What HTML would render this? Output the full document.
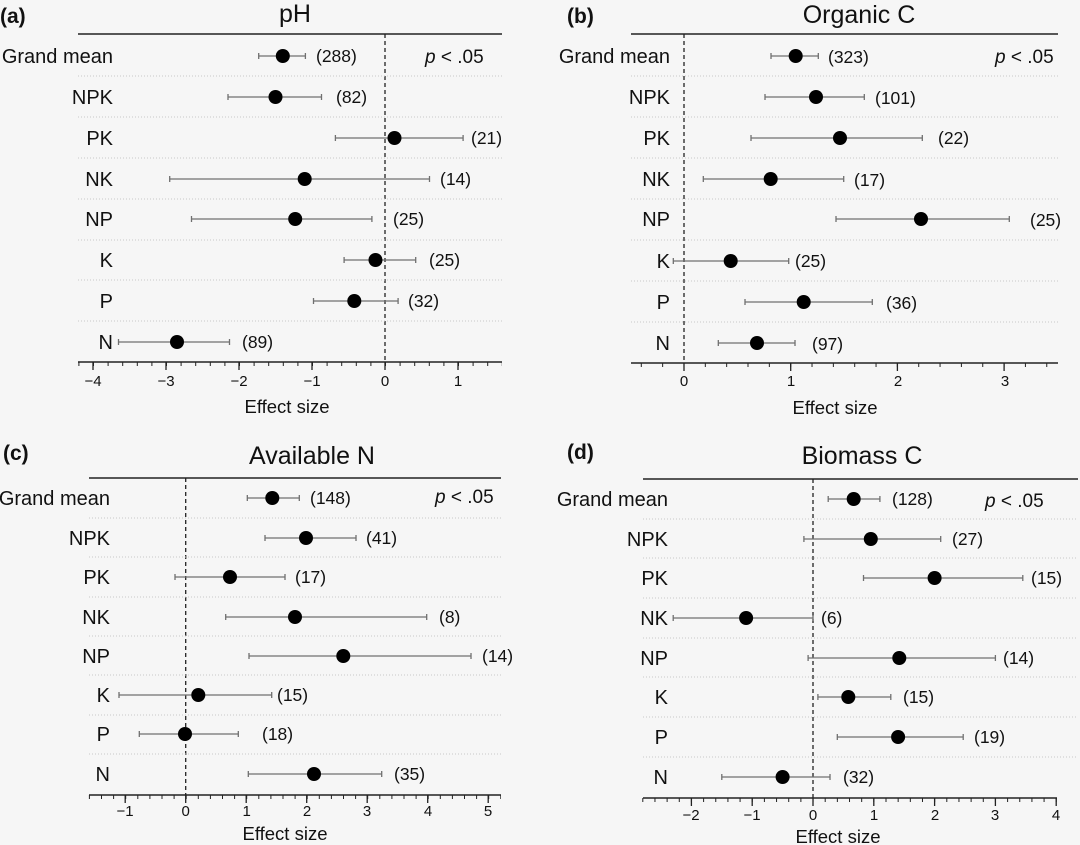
<!DOCTYPE html>
<html><head><meta charset="utf-8"><style>
html,body{margin:0;padding:0;background:#f6f6f6;}
svg{display:block;font-family:"Liberation Sans",Arial,sans-serif;}
.lab{font-size:20px;text-anchor:end;fill:#111}
.cnt{font-size:17.5px;fill:#111}
.tk{font-size:15px;text-anchor:middle;fill:#111}
.ttl{font-size:25px;text-anchor:middle;fill:#111}
.pl{font-size:21px;font-weight:bold;fill:#111}
.es{font-size:18.5px;text-anchor:middle;fill:#111}
.pv{font-size:19px;fill:#111}
.sep{stroke:#c8c8c8;stroke-width:1;stroke-dasharray:1 2}
.eb{stroke:#707070;stroke-width:1.3;fill:none}
.zero{stroke:#222;stroke-width:1.3;stroke-dasharray:4 3}
.ax{stroke:#222;stroke-width:1.5}
</style></head><body>
<svg width="1080" height="845" viewBox="0 0 1080 845" xmlns="http://www.w3.org/2000/svg">
<rect width="1080" height="845" fill="#f6f6f6"/>

<!-- Panel a -->
<g>
<text class="pl" x="0" y="23">(a)</text>
<text class="ttl" x="295" y="22">pH</text>
<line class="ax" x1="78" y1="34" x2="502" y2="34"/>
<line class="zero" x1="385" y1="34" x2="385" y2="362"/>
<g class="sep"><line x1="78" y1="76" x2="502" y2="76"/><line x1="78" y1="117" x2="502" y2="117"/><line x1="78" y1="158" x2="502" y2="158"/><line x1="78" y1="199" x2="502" y2="199"/><line x1="78" y1="240" x2="502" y2="240"/><line x1="78" y1="280" x2="502" y2="280"/><line x1="78" y1="321" x2="502" y2="321"/></g>
<text class="lab" x="113" y="63">Grand mean</text><text class="lab" x="113" y="104">NPK</text><text class="lab" x="113" y="145">PK</text><text class="lab" x="113" y="186">NK</text><text class="lab" x="113" y="226">NP</text><text class="lab" x="113" y="267">K</text><text class="lab" x="113" y="308">P</text><text class="lab" x="113" y="349">N</text>
<g class="eb">
<path d="M258.7 56H305.4M258.7 53v6M305.4 53v6"/>
<path d="M228 97H321.5M228 94v6M321.5 94v6"/>
<path d="M335.4 138H463.1M335.4 135v6M463.1 135v6"/>
<path d="M169.7 179H429.5M169.7 176v6M429.5 176v6"/>
<path d="M191.5 219H371.9M191.5 216v6M371.9 216v6"/>
<path d="M344.1 260H415.7M344.1 257v6M415.7 257v6"/>
<path d="M313.5 301H398.1M313.5 298v6M398.1 298v6"/>
<path d="M118.5 342H229.5M118.5 339v6M229.5 339v6"/>
</g>
<g fill="#000"><circle cx="282.8" cy="56" r="7"/><circle cx="275.5" cy="97" r="7"/><circle cx="394.5" cy="138" r="7"/><circle cx="304.7" cy="179" r="7"/><circle cx="295.2" cy="219" r="7"/><circle cx="375.5" cy="260" r="7"/><circle cx="354.3" cy="301" r="7"/><circle cx="177" cy="342" r="7"/></g>
<text class="cnt" x="316" y="62">(288)</text><text class="cnt" x="336" y="103">(82)</text><text class="cnt" x="471" y="144">(21)</text><text class="cnt" x="440" y="185">(14)</text><text class="cnt" x="393" y="225">(25)</text><text class="cnt" x="429" y="266">(25)</text><text class="cnt" x="408" y="307">(32)</text><text class="cnt" x="242" y="348">(89)</text>
<text class="pv" x="425" y="63"><tspan font-style="italic">p</tspan> &lt; .05</text>
<line class="ax" x1="78" y1="362" x2="502" y2="362"/>
<line x1="78.4" y1="364" x2="502" y2="364" stroke="#222" stroke-width="4" stroke-dasharray="1 13.6"/>
<line x1="92.35" y1="366" x2="502" y2="366" stroke="#222" stroke-width="8" stroke-dasharray="1.3 71.7"/>
<text class="tk" x="93" y="386">−4</text><text class="tk" x="166" y="386">−3</text><text class="tk" x="239" y="386">−2</text><text class="tk" x="312" y="386">−1</text><text class="tk" x="385" y="386">0</text><text class="tk" x="458" y="386">1</text>
<text class="es" x="287" y="413">Effect size</text>
</g>

<!-- Panel b -->
<g>
<text class="pl" x="567" y="23">(b)</text>
<text class="ttl" x="859" y="23">Organic C</text>
<line class="ax" x1="631" y1="34" x2="1058" y2="34"/>
<line class="zero" x1="684" y1="34" x2="684" y2="363"/>
<g class="sep"><line x1="631" y1="76" x2="1058" y2="76"/><line x1="631" y1="117" x2="1058" y2="117"/><line x1="631" y1="158" x2="1058" y2="158"/><line x1="631" y1="199" x2="1058" y2="199"/><line x1="631" y1="240" x2="1058" y2="240"/><line x1="631" y1="281" x2="1058" y2="281"/><line x1="631" y1="322" x2="1058" y2="322"/></g>
<text class="lab" x="670" y="63">Grand mean</text><text class="lab" x="670" y="104">NPK</text><text class="lab" x="670" y="145">PK</text><text class="lab" x="670" y="186">NK</text><text class="lab" x="670" y="226">NP</text><text class="lab" x="670" y="268">K</text><text class="lab" x="670" y="309">P</text><text class="lab" x="670" y="350">N</text>
<g class="eb">
<path d="M771 56H818.3M771 53v6M818.3 53v6"/>
<path d="M765 97H864.3M765 94v6M864.3 94v6"/>
<path d="M751 138H922.3M751 135v6M922.3 135v6"/>
<path d="M703.3 179H843.7M703.3 176v6M843.7 176v6"/>
<path d="M836 219H1009.3M836 216v6M1009.3 216v6"/>
<path d="M673.3 261H788.7M673.3 258v6M788.7 258v6"/>
<path d="M745 302H872.3M745 299v6M872.3 299v6"/>
<path d="M718.3 343H795M718.3 340v6M795 340v6"/>
</g>
<g fill="#000"><circle cx="795.7" cy="56" r="7"/><circle cx="816" cy="97" r="7"/><circle cx="840" cy="138" r="7"/><circle cx="770.7" cy="179" r="7"/><circle cx="921" cy="219" r="7"/><circle cx="730.7" cy="261" r="7"/><circle cx="803.7" cy="302" r="7"/><circle cx="757" cy="343" r="7"/></g>
<text class="cnt" x="828" y="63">(323)</text><text class="cnt" x="875" y="104">(101)</text><text class="cnt" x="938" y="144">(22)</text><text class="cnt" x="854" y="186">(17)</text><text class="cnt" x="1030" y="226">(25)</text><text class="cnt" x="795" y="267">(25)</text><text class="cnt" x="886" y="309">(36)</text><text class="cnt" x="812" y="350">(97)</text>
<text class="pv" x="995" y="63"><tspan font-style="italic">p</tspan> &lt; .05</text>
<line class="ax" x1="631" y1="363" x2="1058" y2="363"/>
<line x1="640.8" y1="365" x2="1058" y2="365" stroke="#222" stroke-width="4" stroke-dasharray="1 20.34"/>
<line x1="683.35" y1="367" x2="1058" y2="367" stroke="#222" stroke-width="8" stroke-dasharray="1.3 105.4"/>
<text class="tk" x="684" y="386">0</text><text class="tk" x="791" y="386">1</text><text class="tk" x="898" y="386">2</text><text class="tk" x="1005" y="386">3</text>
<text class="es" x="835" y="414">Effect size</text>
</g>

<!-- Panel c -->
<g>
<text class="pl" x="3" y="460">(c)</text>
<text class="ttl" x="312" y="464">Available N</text>
<line class="ax" x1="89" y1="478" x2="501" y2="478"/>
<line class="zero" x1="185.7" y1="478" x2="185.7" y2="795"/>
<g class="sep"><line x1="89" y1="518" x2="501" y2="518"/><line x1="89" y1="557" x2="501" y2="557"/><line x1="89" y1="597" x2="501" y2="597"/><line x1="89" y1="636" x2="501" y2="636"/><line x1="89" y1="675" x2="501" y2="675"/><line x1="89" y1="715" x2="501" y2="715"/><line x1="89" y1="754" x2="501" y2="754"/></g>
<text class="lab" x="110" y="505">Grand mean</text><text class="lab" x="110" y="545">NPK</text><text class="lab" x="110" y="584">PK</text><text class="lab" x="110" y="624">NK</text><text class="lab" x="110" y="663">NP</text><text class="lab" x="110" y="702">K</text><text class="lab" x="110" y="741">P</text><text class="lab" x="110" y="781">N</text>
<g class="eb">
<path d="M247.3 498H299.3M247.3 495v6M299.3 495v6"/>
<path d="M265 538H356M265 535v6M356 535v6"/>
<path d="M175 577H285M175 574v6M285 574v6"/>
<path d="M225.7 617H426.7M225.7 614v6M426.7 614v6"/>
<path d="M249 656H471M249 653v6M471 653v6"/>
<path d="M119 695H271.7M119 692v6M271.7 692v6"/>
<path d="M139.3 734H238.3M139.3 731v6M238.3 731v6"/>
<path d="M248.3 774H381.7M248.3 771v6M381.7 771v6"/>
</g>
<g fill="#000"><circle cx="272.3" cy="498" r="7"/><circle cx="306" cy="538" r="7"/><circle cx="230" cy="577" r="7"/><circle cx="295" cy="617" r="7"/><circle cx="343.3" cy="656" r="7"/><circle cx="198.3" cy="695" r="7"/><circle cx="185" cy="734" r="7"/><circle cx="314" cy="774" r="7"/></g>
<text class="cnt" x="310" y="504">(148)</text><text class="cnt" x="366" y="544">(41)</text><text class="cnt" x="295" y="583">(17)</text><text class="cnt" x="439" y="623">(8)</text><text class="cnt" x="482" y="662">(14)</text><text class="cnt" x="277" y="701">(15)</text><text class="cnt" x="262" y="740">(18)</text><text class="cnt" x="394" y="780">(35)</text>
<text class="pv" x="435" y="503"><tspan font-style="italic">p</tspan> &lt; .05</text>
<line class="ax" x1="89" y1="795" x2="501" y2="795"/>
<line x1="88.9" y1="797" x2="501" y2="797" stroke="#222" stroke-width="4" stroke-dasharray="1 11.1"/>
<line x1="124.55" y1="799" x2="501" y2="799" stroke="#222" stroke-width="8" stroke-dasharray="1.3 59.2"/>
<text class="tk" x="125" y="816">−1</text><text class="tk" x="185.7" y="816">0</text><text class="tk" x="246.7" y="816">1</text><text class="tk" x="307" y="816">2</text><text class="tk" x="367" y="816">3</text><text class="tk" x="428" y="816">4</text><text class="tk" x="488" y="816">5</text>
<text class="es" x="285" y="840">Effect size</text>
</g>

<!-- Panel d -->
<g>
<text class="pl" x="567" y="459">(d)</text>
<text class="ttl" x="862" y="464">Biomass C</text>
<line class="ax" x1="643" y1="479" x2="1078" y2="479"/>
<line class="zero" x1="813" y1="479" x2="813" y2="798"/>
<g class="sep"><line x1="643" y1="519" x2="1078" y2="519"/><line x1="643" y1="558" x2="1078" y2="558"/><line x1="643" y1="598" x2="1078" y2="598"/><line x1="643" y1="638" x2="1078" y2="638"/><line x1="643" y1="677" x2="1078" y2="677"/><line x1="643" y1="717" x2="1078" y2="717"/><line x1="643" y1="757" x2="1078" y2="757"/></g>
<text class="lab" x="668" y="506">Grand mean</text><text class="lab" x="668" y="546">NPK</text><text class="lab" x="668" y="585">PK</text><text class="lab" x="668" y="625">NK</text><text class="lab" x="668" y="665">NP</text><text class="lab" x="668" y="704">K</text><text class="lab" x="668" y="744">P</text><text class="lab" x="668" y="784">N</text>
<g class="eb">
<path d="M828.2 499H879.9M828.2 496v6M879.9 496v6"/>
<path d="M803.9 539H940.7M803.9 536v6M940.7 536v6"/>
<path d="M863.5 578H1022.8M863.5 575v6M1022.8 575v6"/>
<path d="M673.2 618H813M673.2 615v6M813 615v6"/>
<path d="M808.1 658H995.4M808.1 655v6M995.4 655v6"/>
<path d="M817.9 697H890.8M817.9 694v6M890.8 694v6"/>
<path d="M837.3 737H963.2M837.3 734v6M963.2 734v6"/>
<path d="M721.8 777H830M721.8 774v6M830 774v6"/>
</g>
<g fill="#000"><circle cx="853.7" cy="499" r="7"/><circle cx="870.8" cy="539" r="7"/><circle cx="934.6" cy="578" r="7"/><circle cx="746.1" cy="618" r="7"/><circle cx="899.3" cy="658" r="7"/><circle cx="848.3" cy="697" r="7"/><circle cx="898.1" cy="737" r="7"/><circle cx="782.6" cy="777" r="7"/></g>
<text class="cnt" x="892" y="505">(128)</text><text class="cnt" x="952" y="545">(27)</text><text class="cnt" x="1031" y="584">(15)</text><text class="cnt" x="821" y="624">(6)</text><text class="cnt" x="1003" y="664">(14)</text><text class="cnt" x="903" y="703">(15)</text><text class="cnt" x="974" y="743">(19)</text><text class="cnt" x="843" y="783">(32)</text>
<text class="pv" x="985" y="507"><tspan font-style="italic">p</tspan> &lt; .05</text>
<line class="ax" x1="643" y1="798" x2="1057" y2="798"/>
<line x1="642.3" y1="800" x2="1058" y2="800" stroke="#222" stroke-width="4" stroke-dasharray="1 11.16"/>
<line x1="690.75" y1="802" x2="1058" y2="802" stroke="#222" stroke-width="8" stroke-dasharray="1.3 59.5"/>
<text class="tk" x="691" y="820">−2</text><text class="tk" x="752" y="820">−1</text><text class="tk" x="813" y="820">0</text><text class="tk" x="874" y="820">1</text><text class="tk" x="935" y="820">2</text><text class="tk" x="995" y="820">3</text><text class="tk" x="1056" y="820">4</text>
<text class="es" x="838" y="843">Effect size</text>
</g>
</svg>
</body></html>
